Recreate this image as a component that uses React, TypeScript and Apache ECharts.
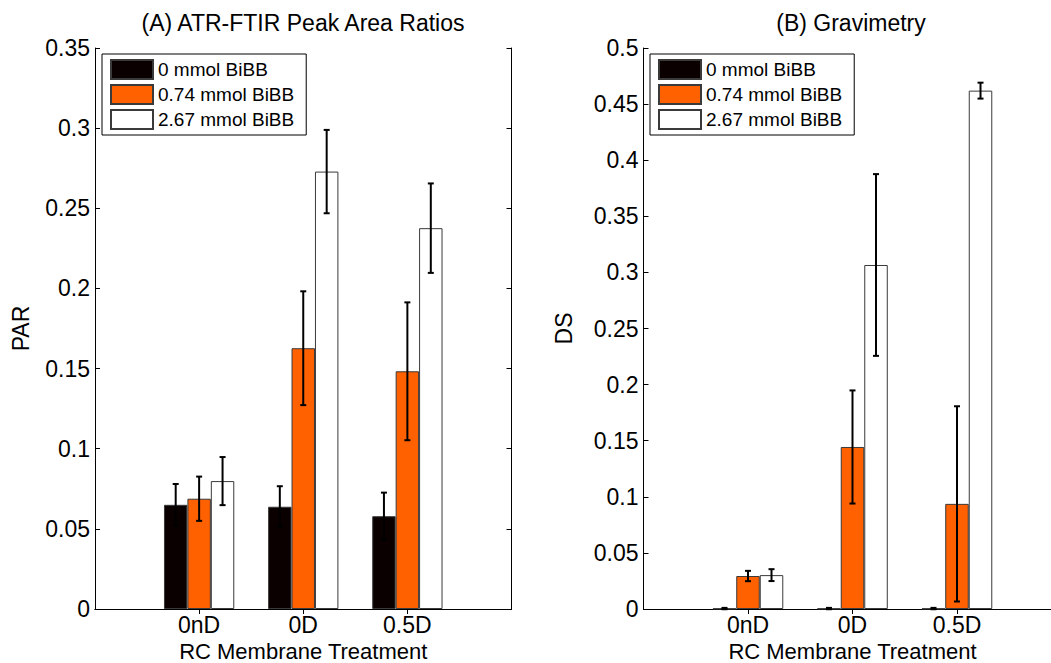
import React, { useEffect, useRef } from 'react';
import * as echarts from 'echarts';

const FONT = '"Liberation Sans", Arial, Helvetica, sans-serif';

// Categories (padded with empty slots so that groups sit at x = 1, 2, 3 on a 0..4 axis)
const categories = ['', '0nD', '0D', '0.5D', ''];
const seriesNames = ['0 mmol BiBB', '0.74 mmol BiBB', '2.67 mmol BiBB'];
const seriesColors = ['#0a0000', '#ff6000', '#ffffff'];

// (A) ATR-FTIR peak area ratios
const parMean0 = [0.065, 0.0638, 0.0579];
const parErr0 = [0.013, 0.0128, 0.0147];
const parMean074 = [0.0688, 0.1627, 0.1483];
const parErr074 = [0.0138, 0.0355, 0.043];
const parMean267 = [0.0798, 0.2729, 0.2376];
const parErr267 = [0.015, 0.026, 0.0279];

// (B) Gravimetry (degree of substitution)
const dsMean0 = [0.0004, 0.0004, 0.0004];
const dsErr0 = [0.0006, 0.0006, 0.0006];
const dsMean074 = [0.0294, 0.1444, 0.0937];
const dsErr074 = [0.0046, 0.0504, 0.087];
const dsMean267 = [0.0302, 0.3066, 0.462];
const dsErr267 = [0.0053, 0.081, 0.0071];

const parTicksMax = 0.35;
const dsTicksMax = 0.5;
const tickStep = 0.05;

const panels = [
  {
    title: '(A) ATR-FTIR Peak Area Ratios',
    yName: 'PAR',
    max: parTicksMax,
    means: [parMean0, parMean074, parMean267],
    errs: [parErr0, parErr074, parErr267],
    grid: { left: 95, top: 48, width: 416.5, height: 561 },
    titleX: 303,
    legendX: 102,
    nameGap: 63,
  },
  {
    title: '(B) Gravimetry',
    yName: 'DS',
    max: dsTicksMax,
    means: [dsMean0, dsMean074, dsMean267],
    errs: [dsErr0, dsErr074, dsErr267],
    grid: { left: 643.5, top: 48, width: 418, height: 561 },
    titleX: 851,
    legendX: 650,
    nameGap: 68,
  },
];

const BAR_FRAC = 0.225;

function App() {
  const ref = useRef<HTMLDivElement>(null);
  useEffect(() => {
    const chart = echarts.init(ref.current!, null, { renderer: 'svg' });
    const black = '#000';
    const xAxes: any[] = [];
    const yAxes: any[] = [];
    const series: any[] = [];
    const titles: any[] = [];
    const legends: any[] = [];

    panels.forEach((p, pi) => {
      const tickInterval = (i: number) => i >= 1 && i <= categories.length - 2;
      xAxes.push({
        type: 'category',
        gridIndex: pi,
        position: 'bottom',
        data: categories,
        boundaryGap: false,
        axisLine: { show: true, lineStyle: { color: black, width: 1 } },
        axisTick: { show: true, inside: true, length: 5, interval: tickInterval, lineStyle: { color: black } },
        axisLabel: { show: true, interval: 0, color: black, fontSize: 23, fontFamily: FONT, margin: 4 },
        splitLine: { show: false },
        name: 'RC Membrane Treatment',
        nameLocation: 'middle',
        nameGap: 26,
        nameTextStyle: { color: black, fontSize: 22, fontFamily: FONT },
      });
      xAxes.push({
        type: 'category',
        gridIndex: pi,
        position: 'top',
        data: categories,
        boundaryGap: false,
        axisLine: { show: true, lineStyle: { color: black, width: 1 } },
        axisTick: { show: true, inside: true, length: 5, interval: tickInterval, lineStyle: { color: black } },
        axisLabel: { show: false },
        splitLine: { show: false },
      });
      yAxes.push({
        type: 'value',
        gridIndex: pi,
        position: 'left',
        min: 0,
        max: p.max,
        interval: tickStep,
        axisLine: { show: true, lineStyle: { color: black, width: 1 } },
        axisTick: { show: true, inside: true, length: 5, lineStyle: { color: black } },
        axisLabel: {
          color: black,
          fontSize: 23,
          fontFamily: FONT,
          margin: 5,
          formatter: (v: number) => String(+v.toFixed(4)),
        },
        splitLine: { show: false },
        name: p.yName,
        nameLocation: 'middle',
        nameRotate: 90,
        nameGap: p.nameGap,
        nameTextStyle: { color: black, fontSize: 23, fontFamily: FONT },
      });
      yAxes.push({
        type: 'value',
        gridIndex: pi,
        position: 'right',
        min: 0,
        max: p.max,
        interval: tickStep,
        axisLine: { show: true, lineStyle: { color: black, width: 1 } },
        axisTick: { show: true, inside: true, length: 5, lineStyle: { color: black } },
        axisLabel: { show: false },
        splitLine: { show: false },
      });

      const xi = pi * 2;
      const yi = pi * 2;
      seriesNames.forEach((name, si) => {
        series.push({
          type: 'bar',
          name,
          xAxisIndex: xi,
          yAxisIndex: yi,
          data: [null, ...p.means[si], null],
          barWidth: BAR_FRAC * 100 + '%',
          barGap: '0%',
          itemStyle: { color: seriesColors[si], borderColor: '#3a3a3a', borderWidth: 1 },
          z: 2,
        });
        series.push({
          type: 'custom',
          xAxisIndex: xi,
          yAxisIndex: yi,
          z: 5,
          silent: true,
          encode: { x: 0, y: 1 },
          data: p.means[si].map((m, k) => [k + 1, m, p.errs[si][k]]),
          renderItem: (params: any, api: any) => {
            const x = api.value(0);
            const y = api.value(1);
            const e = api.value(2);
            const band = api.size([1, 0])[0];
            const cx = api.coord([x, y])[0] + (si - 1) * band * BAR_FRAC;
            const top = api.coord([x, y + e])[1];
            const bot = api.coord([x, y - e])[1];
            const cap = 3;
            const style = { stroke: black, lineWidth: 2 };
            return {
              type: 'group',
              children: [
                { type: 'line', shape: { x1: cx, y1: top, x2: cx, y2: bot }, style },
                { type: 'line', shape: { x1: cx - cap, y1: top, x2: cx + cap, y2: top }, style },
                { type: 'line', shape: { x1: cx - cap, y1: bot, x2: cx + cap, y2: bot }, style },
              ],
            };
          },
        });
      });

      titles.push({
        text: p.title,
        left: p.titleX,
        top: 11,
        padding: 0,
        textAlign: 'center',
        textStyle: { color: black, fontSize: 23, fontWeight: 'normal', fontFamily: FONT },
      });
      legends.push({
        data: seriesNames,
        orient: 'vertical',
        left: p.legendX,
        top: 54,
        itemWidth: 42,
        itemHeight: 19,
        itemGap: 4,
        padding: [5, 12, 5, 8],
        icon: 'rect',
        selectedMode: false,
        backgroundColor: '#fff',
        borderColor: black,
        borderWidth: 1,
        borderRadius: 0,
        textStyle: { color: black, fontSize: 19, lineHeight: 19, fontFamily: FONT },
        z: 10,
      });
    });

    chart.setOption({
      animation: false,
      backgroundColor: '#fff',
      textStyle: { fontFamily: FONT },
      title: titles,
      legend: legends,
      grid: panels.map((p) => ({ ...p.grid, containLabel: false, outerBoundsMode: 'none' })),
      xAxis: xAxes,
      yAxis: yAxes,
      series,
    });
    return () => chart.dispose();
  }, []);
  return (
    <div
      ref={ref}
      style={{ position: 'absolute', left: 0, top: 0, width: 1051, height: 663, background: '#fff' }}
    />
  );
}

export default App;
